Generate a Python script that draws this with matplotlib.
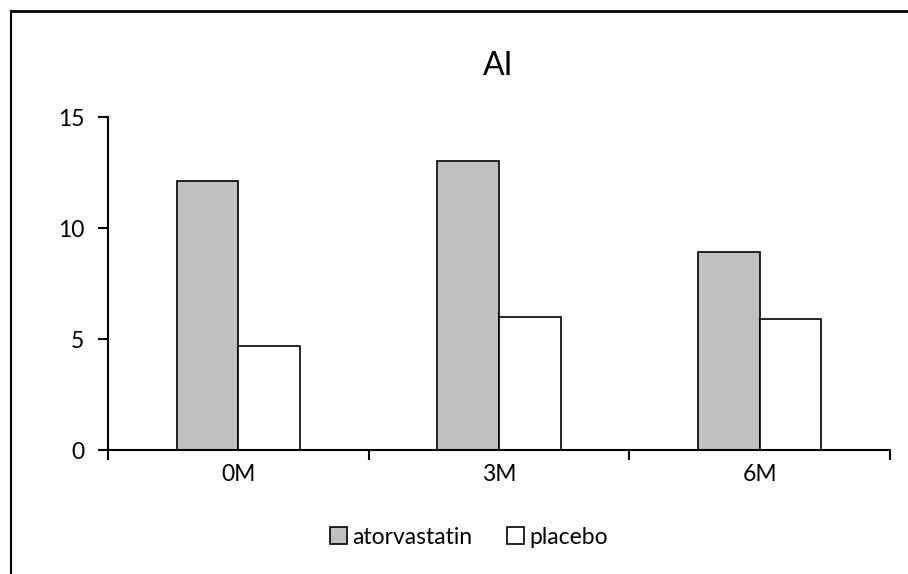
import numpy as np
import matplotlib.pyplot as plt
from matplotlib.lines import Line2D

plt.rcParams["font.family"] = ["Lato", "DejaVu Sans"]

months = ["0M", "3M", "6M"]
atorvastatin = [12.1, 13.0, 8.9]
placebo = [4.7, 6.0, 5.9]
yticks = [0, 5, 10, 15]

fig = plt.figure(figsize=(9.08, 5.74), dpi=100)
ax = fig.add_axes([0.1189, 0.2160, 0.8613, 0.5801])

x = np.arange(len(months))
w = 0.237
ax.bar(x - w / 2, atorvastatin, w, color="#c0c0c0", edgecolor="black", lw=1.2, label="atorvastatin")
ax.bar(x + w / 2, placebo, w, color="white", edgecolor="black", lw=1.2, label="placebo")

ax.set_xlim(-0.5, 2.5)
ax.set_ylim(0, 15)
ax.set_yticks(yticks)
ax.set_xticks([-0.5, 0.5, 1.5, 2.5])
ax.set_xticklabels([])
ax.set_xticks(x, minor=True)
ax.set_xticklabels(months, minor=True, fontsize=16.5)
ax.tick_params(axis="x", which="minor", length=0, pad=10)
ax.tick_params(axis="x", which="major", length=7, width=1.5, direction="out")
ax.tick_params(axis="y", length=7, width=1.5, labelsize=16.5, pad=10)
for s in ["top", "right"]:
    ax.spines[s].set_visible(False)
for s in ["left", "bottom"]:
    ax.spines[s].set_linewidth(1.5)

fig.text(0.5485, 1 - 66 / 574, "AI", ha="center", va="center", fontsize=23)

fig.legend(loc="center", bbox_to_anchor=(469 / 908, 1 - 537 / 574), ncol=2,
           frameon=False, fontsize=16.5, handlelength=0.75, handleheight=0.75,
           handletextpad=0.25, columnspacing=1.5)

# frame around the chart area
fig.add_artist(Line2D([11 / 908, 1], [1 - 11 / 574, 1 - 11 / 574], color="black", lw=2))
fig.add_artist(Line2D([11 / 908, 11 / 908], [0, 1 - 11 / 574], color="black", lw=1.5))

fig.savefig("out.png", dpi=100)
